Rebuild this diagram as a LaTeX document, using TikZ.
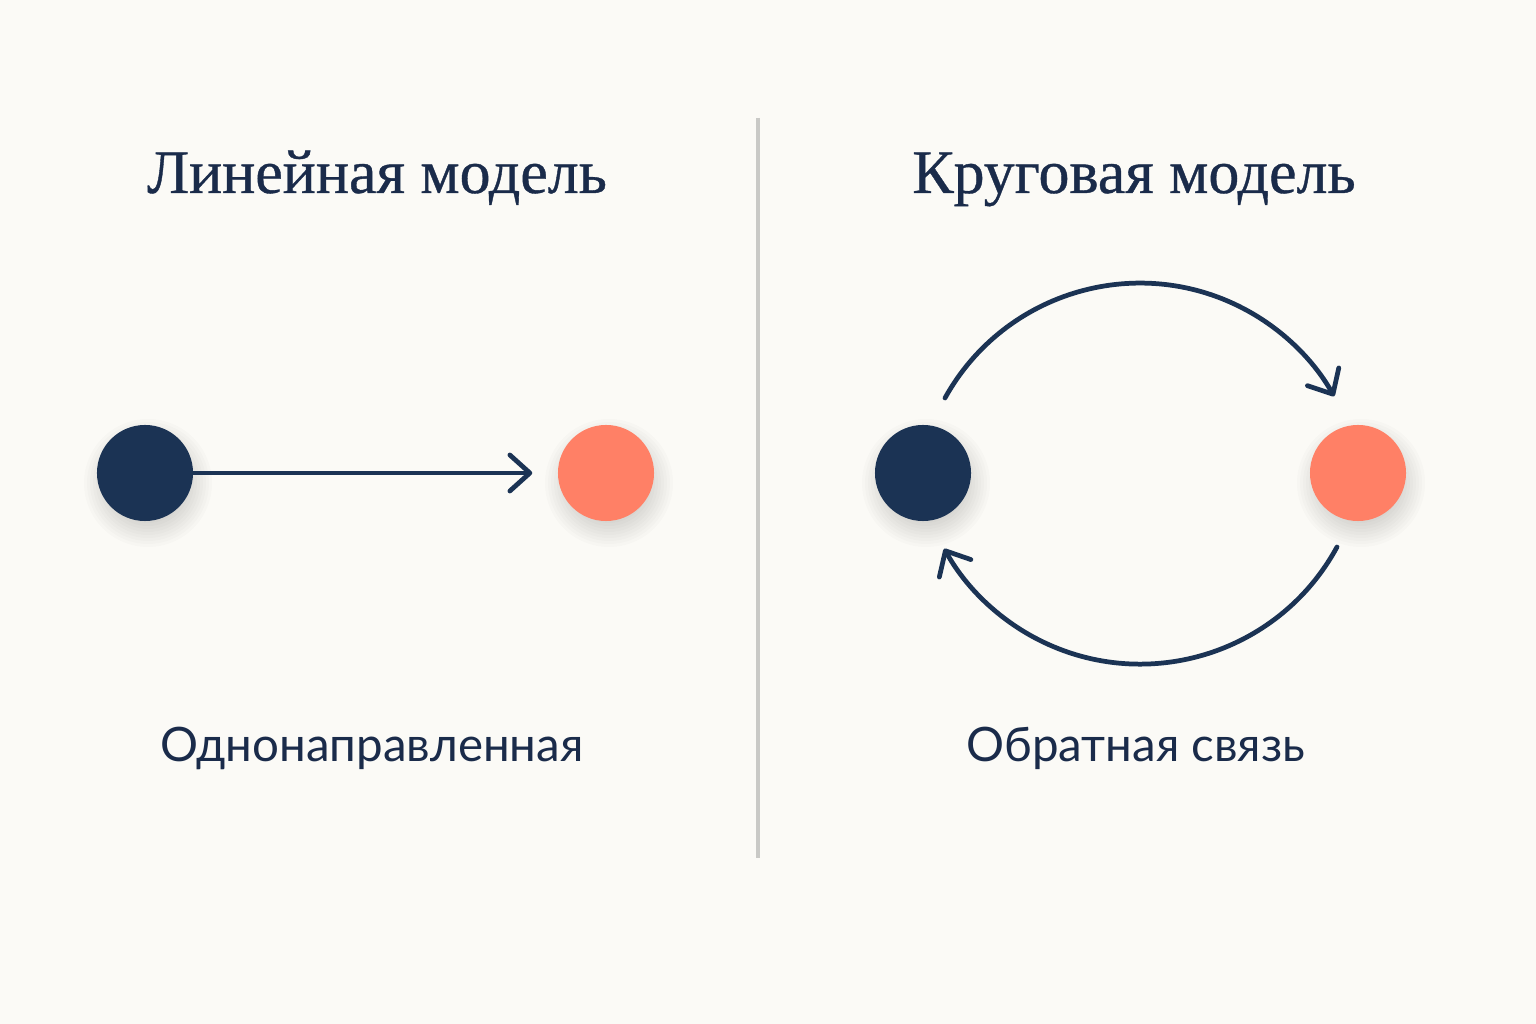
\documentclass[tikz,border=0pt]{standalone}
\usepackage{fontspec}
\setmainfont{Liberation Serif}
\newfontfamily\labelfont{Lato}
\usetikzlibrary{arrows.meta,calc}
\definecolor{bg}{HTML}{FBFAF6}
\definecolor{navy}{HTML}{1B3354}
\definecolor{coral}{HTML}{FF8066}
\definecolor{ink}{HTML}{1A2B4A}
\definecolor{divider}{HTML}{C9C9C6}
\begin{document}
\begin{tikzpicture}[x=0.01cm,y=0.01cm,
  dot/.style={circle, minimum size=0.96cm, inner sep=0pt},
  navydot/.style={dot, fill=navy},
  coraldot/.style={dot, fill=coral},
  softshade/.style={fill=black, opacity=0.015},
  title/.style={font=\fontsize{17.6pt}{20pt}\selectfont\addfontfeature{FakeBold=0.6}, text=ink, anchor=base},
  caption/.style={font=\labelfont\fontsize{13.5pt}{16pt}\selectfont, text=ink, anchor=base},
  link/.style={draw=navy, line width=1.35pt, line cap=round,
    -{Straight Barb[length=0.2cm,width=0.36cm,line cap=round,line join=round]}}
]
\fill[bg] (0,0) rectangle (1536,1024);
\useasboundingbox (0,0) rectangle (1536,1024);
% divider
\draw[divider, line width=0.9pt] (758,906) -- (758,166);
% titles
\node[title] (t1) at (377,831) {Линейная модель};
\node[title] (t2) at (1134,831) {Круговая модель};
% circle centres
\coordinate (p1) at (145,551);
\coordinate (p2) at (606,551);
\coordinate (p3) at (923,551);
\coordinate (p4) at (1358,551);
% soft shadows
\foreach \c in {p1,p2,p3,p4}{
  \foreach \r in {40,43,...,64}{
    \fill[softshade] ($(\c)+(3,-10)$) circle[radius=\r];
  }
}
% left model
\node[navydot] (l1) at (p1) {};
\node[coraldot] (l2) at (p2) {};
\draw[link, shorten >=0.25cm] (l1.east) -- (l2.west);
% right model
\node[navydot] (r1) at (p3) {};
\node[coraldot] (r2) at (p4) {};
\coordinate (upS) at (945,626);
\coordinate (loS) at (1337,477);
\draw[link] (upS) arc[start angle=151, end angle=29.5, radius=223];
\draw[link] (loS) arc[start angle=-28.5, end angle=-151, radius=224];
% captions
\node[caption] (c1) at (372,262) {Однонаправленная};
\node[caption] (c2) at (1136,262) {Обратная связь};
\end{tikzpicture}
\end{document}
